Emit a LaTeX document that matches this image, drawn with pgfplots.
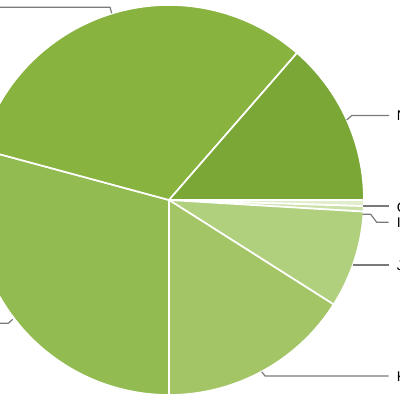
\documentclass[border=0pt]{standalone}
\usepackage{pgfplots}
\usepackage{pgfplotstable}
\usepackage{fontspec}
\setmainfont{Liberation Sans}
\pgfplotsset{compat=1.18}

\definecolor{slice0}{HTML}{E1EDCB}
\definecolor{slice1}{HTML}{CCE1A7}
\definecolor{slice2}{HTML}{B1D07D}
\definecolor{slice3}{HTML}{A3C565}
\definecolor{slice4}{HTML}{92BC51}
\definecolor{slice5}{HTML}{88B33F}
\definecolor{slice6}{HTML}{7BA737}
\definecolor{leader}{HTML}{7A7A7A}
\definecolor{labeltext}{HTML}{444444}

% share of each version, in %, clockwise from 3 o'clock
\pgfplotstableread{
name pct
Gingerbread 0.5
IceCreamSandwich 0.45
JellyBean 8.05
KitKat 16.0
Lollipop 29.2
Marshmallow 32.2
Nougat 13.6
}\piedata

\begin{document}
\begin{tikzpicture}
% cumulative shares
\gdef\acc{0}
\foreach \i in {0,...,6}{%
  \pgfplotstablegetelem{\i}{pct}\of\piedata
  \pgfmathsetmacro\tmpE{\acc+\pgfplotsretval}%
  \expandafter\xdef\csname sa\i\endcsname{\acc}%
  \expandafter\xdef\csname se\i\endcsname{\tmpE}%
  \xdef\acc{\tmpE}%
}
\begin{axis}[
    scale only axis,
    width=10cm, height=10cm,
    xmin=0, xmax=400, ymin=0, ymax=400,
    hide axis,
    clip=true,
    disabledatascaling,
    every node/.style={font=\fontsize{9.4}{11}\selectfont, text=labeltext, inner sep=0pt},
]
\addplot[draw=none, forget plot] coordinates {(0,0) (400,400)};
\pgfplotsinvokeforeach{0,...,6}{
  \fill[fill=slice#1, draw=white, line width=1.2pt, line join=round]
    (axis cs:169,200) -- ++({-3.6*\csname sa#1\endcsname}:195)
    arc[start angle={-3.6*\csname sa#1\endcsname}, end angle={-3.6*\csname se#1\endcsname}, radius=195]
    -- cycle;
}
% leader lines and labels
\begin{scope}[draw=leader, line width=0.85pt]
\draw (axis cs:346.7,280) -- (axis cs:351.7,284.5) -- (axis cs:389,284.5);
\draw (axis cs:362.7,194) -- (axis cs:388.5,194);
\draw (axis cs:362.7,185.7) -- (axis cs:370.7,185.7) -- (axis cs:376.7,177.7) -- (axis cs:388.5,177.7);
\draw (axis cs:353.3,135) -- (axis cs:388.5,135);
\draw (axis cs:261.7,28.3) -- (axis cs:265,24) -- (axis cs:388.5,24);
\draw (axis cs:111.7,386.7) -- (axis cs:110,392.7) -- (axis cs:-10,392.7);
\draw (axis cs:12.7,80.7) -- (axis cs:8.3,76.7) -- (axis cs:-10,76.7);
\end{scope}
\node[anchor=base west] at (axis cs:392,279.3) {Nougat};
\node[anchor=base west] at (axis cs:392,187.3) {Gingerbread};
\node[anchor=base west] at (axis cs:392,172.8) {Ice Cream Sandwich};
\node[anchor=base west] at (axis cs:392,129.6) {Jelly Bean};
\node[anchor=base west] at (axis cs:392,18.6) {KitKat};
\node[anchor=base east] at (axis cs:-15,388.5) {Marshmallow};
\node[anchor=base east] at (axis cs:-15,72.5) {Lollipop};
\end{axis}
\pgfresetboundingbox
\useasboundingbox (current axis.south west) rectangle (current axis.north east);
\end{tikzpicture}
\end{document}
